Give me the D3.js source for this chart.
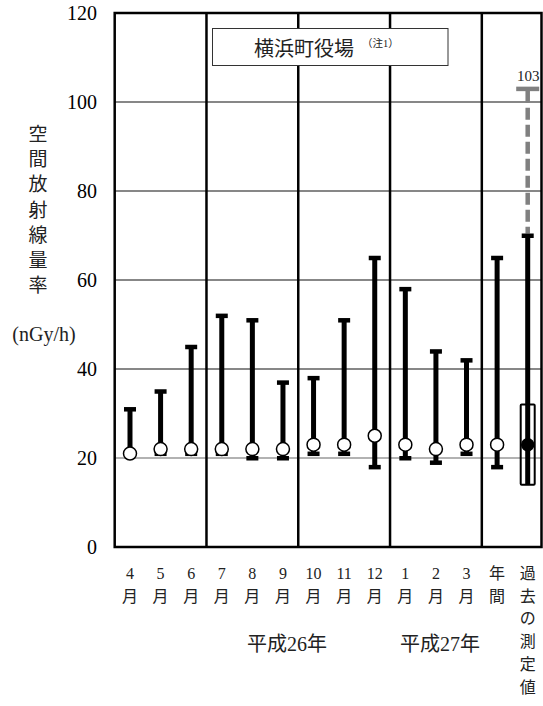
<!DOCTYPE html>
<html><head><meta charset="utf-8">
<script src="https://cdn.jsdelivr.net/npm/d3@7"></script>
<style>body{margin:0;background:#fff}svg{display:block}
text{font-family:"Liberation Serif","DejaVu Serif","Noto Sans CJK JP",serif}</style>
</head><body><div id="c"></div>
<script>
const categories = ["4月","5月","6月","7月","8月","9月","10月","11月","12月","1月","2月","3月","年間","過去の測定値"];
const tickLines = [["4","月"],["5","月"],["6","月"],["7","月"],["8","月"],["9","月"],["10","月"],["11","月"],["12","月"],["1","月"],["2","月"],["3","月"],["年","間"],["過","去","の","測","定","値"]];
const maxVals = [31,35,45,52,51,37,38,51,65,58,44,42,65,70];
const minVals = [21,21,21,21,20,20,21,21,18,20,19,21,18,14];
const meanVals = [21,22,22,22,22,22,23,23,25,23,22,23,23,23];
const pastBox = [14,32];
const pastMax = 103;
const yTicks = [0,20,40,60,80,100,120];
const yearGroups = [{label:"平成26年", under:"9月"},{label:"平成27年", under:"2月"}];
const title = "横浜町役場";
const titleNote = "（注1）";
const yLabel = "空間放射線量率";
const yUnit = "(nGy/h)";

const W=543,H=706;
const svg = d3.select("#c").append("svg").attr("width",W).attr("height",H);
const x = d3.scaleBand().domain(categories).range([114.7,543]).padding(0);
const y = d3.scaleLinear().domain([0,120]).range([547,13]);
const L=114.7, R=541.5, T=y(120), B=y(0);

// gridlines
svg.append("g").selectAll("line").data(yTicks.filter(d=>d>0&&d<120)).join("line")
  .attr("x1",L).attr("x2",R).attr("y1",d=>y(d)).attr("y2",d=>y(d))
  .attr("stroke",d=>d===20?"#666":"#111").attr("stroke-width",1.2);

// y tick labels
svg.append("g").selectAll("text").data(yTicks).join("text")
  .attr("x",97).attr("y",d=>y(d)+7).attr("text-anchor","end")
  .attr("font-size",20).text(d=>d);

// dividers
const divs = ["7月","10月","1月","年間"].map(c=>x(c));
svg.append("g").selectAll("line").data(divs).join("line")
  .attr("x1",d=>d).attr("x2",d=>d).attr("y1",T).attr("y2",B)
  .attr("stroke","#000").attr("stroke-width",2.5);
// border
svg.append("rect").attr("x",L).attr("y",T).attr("width",R-L).attr("height",B-T)
  .attr("fill","none").attr("stroke","#000").attr("stroke-width",2.5);

// title box
svg.append("rect").attr("x",212.5).attr("y",28.5).attr("width",235.5).attr("height",37)
  .attr("fill","#fff").attr("stroke","#333").attr("stroke-width",1);
svg.append("text").attr("x",304).attr("y",55.5).attr("text-anchor","middle")
  .attr("font-size",20).attr("fill","#222").text(title);
svg.append("text").attr("x",362).attr("y",47).attr("font-size",10.5).attr("fill","#222").text(titleNote);

const cx = c=>x(c)+x.bandwidth()/2;
const data = categories.map((c,i)=>({c,max:maxVals[i],min:minVals[i],mean:meanVals[i],past:i===categories.length-1}));

// past dashed line to max
const pc = categories[categories.length-1];
svg.append("line").attr("x1",cx(pc)).attr("x2",cx(pc)).attr("y1",y(pastMax)+2).attr("y2",y(70)-2)
  .attr("stroke","#808080").attr("stroke-width",4.5).attr("stroke-dasharray","12,5");
svg.append("rect").attr("x",cx(pc)-11.5).attr("y",y(pastMax)-2).attr("width",23).attr("height",4.5).attr("fill","#808080");
svg.append("text").attr("x",cx(pc)+0.5).attr("y",y(pastMax)-7.5).attr("text-anchor","middle")
  .attr("font-size",15).attr("fill","#222").text(pastMax);

// bars
const g = svg.append("g");
g.selectAll("line.bar").data(data).join("line").attr("class","bar")
  .attr("x1",d=>cx(d.c)).attr("x2",d=>cx(d.c)).attr("y1",d=>y(d.max)).attr("y2",d=>y(d.min))
  .attr("stroke","#000").attr("stroke-width",5);
g.selectAll("rect.capT").data(data).join("rect").attr("class","capT")
  .attr("x",d=>cx(d.c)-6).attr("y",d=>y(d.max)-2).attr("width",12).attr("height",4.5).attr("fill","#000");
g.selectAll("rect.capB").data(data.filter(d=>!d.past)).join("rect").attr("class","capB")
  .attr("x",d=>cx(d.c)-6).attr("y",d=>y(d.min)-2).attr("width",12).attr("height",4.5).attr("fill","#000");
// past box
svg.append("rect").attr("x",cx(pc)-7).attr("y",y(pastBox[1])).attr("width",14).attr("height",y(pastBox[0])-y(pastBox[1]))
  .attr("fill","none").attr("stroke","#000").attr("stroke-width",2).attr("rx",1);
// means
g.selectAll("circle").data(data).join("circle")
  .attr("cx",d=>cx(d.c)).attr("cy",d=>y(d.mean)).attr("r",d=>d.past?6:6.5)
  .attr("fill",d=>d.past?"#000":"#fff").attr("stroke","#000").attr("stroke-width",1.5);

// x labels
const xl = svg.append("g");
categories.forEach((c,i)=>{
  tickLines[i].forEach((t,j)=>{
    xl.append("text").attr("x",cx(c)).attr("y",579+j*22.7).attr("text-anchor","middle")
      .attr("font-size",16).attr("fill","#222").text(t);
  });
});
yearGroups.forEach(gp=>{
  svg.append("text").attr("x",cx(gp.under)+4).attr("y",651).attr("text-anchor","middle")
    .attr("font-size",20).attr("fill","#222").text(gp.label);
});

// y label vertical
Array.from(yLabel).forEach((ch,i)=>{
  svg.append("text").attr("x",38).attr("y",141+i*25.2).attr("text-anchor","middle")
    .attr("font-size",19).attr("fill","#222").text(ch);
});
svg.append("text").attr("x",44).attr("y",341).attr("text-anchor","middle")
  .attr("font-size",20).attr("fill","#222").text(yUnit);
</script></body></html>
